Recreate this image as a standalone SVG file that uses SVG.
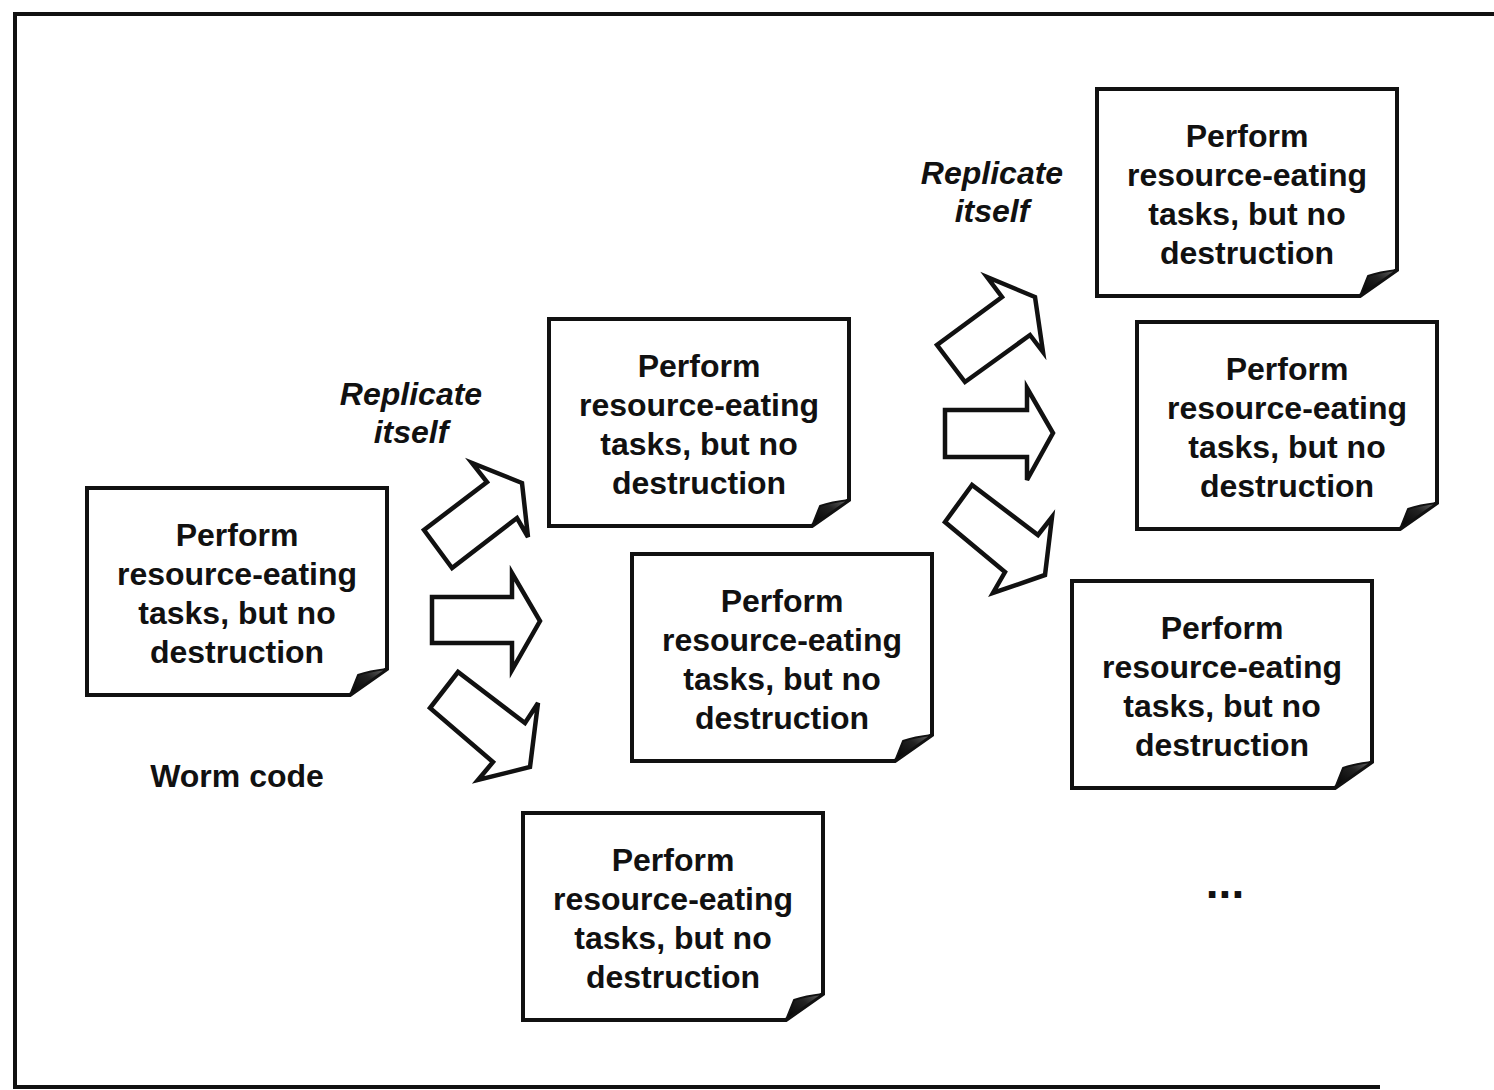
<svg xmlns="http://www.w3.org/2000/svg" xmlns:xlink="http://www.w3.org/1999/xlink" width="1494" height="1090" viewBox="0 0 1494 1090">
  <style>
    .note { fill: #ffffff; stroke: #111; stroke-width: 4; stroke-linejoin: miter; }
    .curl { fill: url(#curlShade); stroke: #111; stroke-width: 2; stroke-linejoin: round; }
    .label { font-family: "Liberation Sans", Arial, sans-serif; font-size: 32px; font-weight: bold; fill: #111; text-anchor: middle; }
    .italic { font-style: italic; }
    .block-arrow { fill: #ffffff; stroke: #111; stroke-width: 4.5; stroke-linejoin: miter; }
    .frame { fill: none; stroke: #111; stroke-width: 4; }
  </style>
  <defs>
    <linearGradient id="curlShade" x1="0" y1="1" x2="1" y2="0">
      <stop offset="0" stop-color="#000"/>
      <stop offset="0.6" stop-color="#222"/>
      <stop offset="1" stop-color="#666"/>
    </linearGradient>
    <!-- note sheet with a curled bottom-right corner, 300 x 207 -->
    <g id="note">
      <path class="note" d="M0,0 H300 V181 L263,207 H0 Z"/>
      <path class="curl" d="M263,207 L271,187 Q282,183 300,181 Z"/>
    </g>
    <g id="noteText">
      <text class="label" x="150" y="58">Perform</text>
      <text class="label" x="150" y="97">resource-eating</text>
      <text class="label" x="150" y="136">tasks, but no</text>
      <text class="label" x="150" y="175">destruction</text>
    </g>
  </defs>

  <rect width="1494" height="1090" fill="#ffffff"/>

  <!-- outer frame -->
  <path class="frame" d="M1494,14 H15 V1087 H1380"/>

  <!-- original worm -->
  <g id="worm">
    <g transform="translate(87,488)">
      <use xlink:href="#note"/>
      <use xlink:href="#noteText"/>
    </g>
    <text class="label" x="237" y="787">Worm code</text>
  </g>

  <!-- first generation copies -->
  <g id="copy-1a" transform="translate(549,319)">
    <use xlink:href="#note"/>
    <use xlink:href="#noteText"/>
  </g>
  <g id="copy-1b" transform="translate(632,554)">
    <use xlink:href="#note"/>
    <use xlink:href="#noteText"/>
  </g>
  <g id="copy-1c" transform="translate(523,813)">
    <use xlink:href="#note"/>
    <use xlink:href="#noteText"/>
  </g>

  <!-- second generation copies -->
  <g id="copy-2a" transform="translate(1097,89)">
    <use xlink:href="#note"/>
    <use xlink:href="#noteText"/>
  </g>
  <g id="copy-2b" transform="translate(1137,322)">
    <use xlink:href="#note"/>
    <use xlink:href="#noteText"/>
  </g>
  <g id="copy-2c" transform="translate(1072,581)">
    <use xlink:href="#note"/>
    <use xlink:href="#noteText"/>
  </g>

  <g id="more">
    <text class="label" x="1225" y="898" style="font-size:46px">...</text>
  </g>

  <!-- replication labels -->
  <g id="replicate-1">
    <text class="label italic" x="411" y="405">Replicate</text>
    <text class="label italic" x="411" y="443">itself</text>
  </g>
  <g id="replicate-2">
    <text class="label italic" x="992" y="184">Replicate</text>
    <text class="label italic" x="992" y="222">itself</text>
  </g>

  <!-- block arrows -->
  <g id="connectors">
    <polygon class="block-arrow" points="452,568 424,530 487,482 472,463 522,483 528,537 517,518"/>
    <polygon class="block-arrow" points="432,597 512,597 512,573 540,621 512,670 512,643 432,643"/>
    <polygon class="block-arrow" points="458,672 430,708 493,762 478,780 530,767 538,703 525,723"/>

    <polygon class="block-arrow" points="965,382 937,345 1002,297 987,277 1035,297 1043,352 1030,335"/>
    <polygon class="block-arrow" points="945,410 1027,410 1027,388 1053,433 1027,480 1027,457 945,457"/>
    <polygon class="block-arrow" points="972,485 945,522 1005,572 993,593 1045,575 1052,517 1038,535"/>
  </g>
</svg>
